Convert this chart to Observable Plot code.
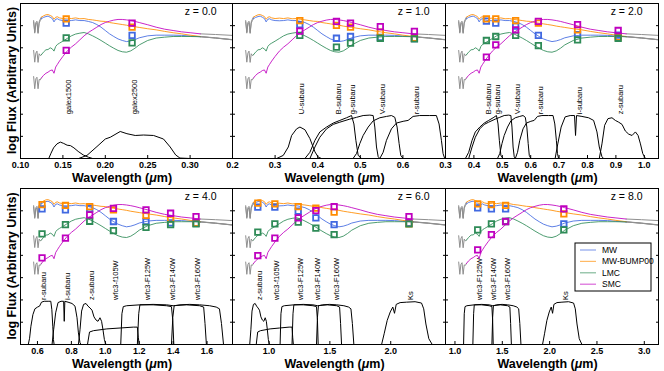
<!DOCTYPE html>
<html><head><meta charset="utf-8">
<script src="https://cdn.jsdelivr.net/npm/d3@7"></script>
<script src="https://cdn.jsdelivr.net/npm/@observablehq/plot@0.6"></script>
<style>
body{margin:0;background:#fff;}
#wrap{position:relative;width:664px;height:371px;overflow:hidden;background:#fff;font-family:"Liberation Sans",Arial,sans-serif;}
</style></head><body><div id="wrap"></div>
<script>
// ---------- data ----------
const SERIES = ["MW", "MW-BUMP00", "LMC", "SMC"];
const COLORS = ["#4169e1", "#ff8c00", "#2e8b57", "#bf00bf"];
const GRAY = "#8f8f8f";

const REST_RANGE = [0.10, 0.35];          // rest-frame wavelength window (um)
const REDSHIFTS = [0, 1, 2, 4, 6, 8];

// rest-frame spectra (log flux, arbitrary units)
const LAM_START = [0.1155, 0.1168, 0.1181, 0.1194, 0.1207, 0.1220, 0.1233, 0.1245];
const LAM = [0.1245, 0.127, 0.130, 0.1325, 0.135, 0.1375, 0.1395, 0.1415, 0.1435, 0.146,
             0.150, 0.155, 0.160, 0.165, 0.170, 0.175, 0.180, 0.185, 0.190, 0.195,
             0.200, 0.205, 0.210, 0.215, 0.220, 0.225, 0.230, 0.235, 0.240, 0.250,
             0.260, 0.270, 0.280, 0.290, 0.300, 0.312];
const LAM_TAIL = [0.312, 0.33, 0.35];

const MW_START = [6.17, 5.66, 6.08, 6.14, 5.65, 6.11, 6.23, 6.31];
const MW_FLUX = [6.31, 6.37, 6.41, 6.43, 6.38, 6.32, 6.17, 6.29, 6.31, 6.26,
                 6.23, 6.22, 6.23, 6.26, 6.23, 6.23, 6.19, 6.14, 6.05, 5.93,
                 5.78, 5.63, 5.51, 5.40, 5.33, 5.28, 5.31, 5.37, 5.45, 5.54,
                 5.57, 5.57, 5.57, 5.56, 5.53, 5.50];
const MW_TAIL = [5.50, 5.44, 5.36];

const BUMP_START = [6.23, 5.71, 6.14, 6.20, 5.69, 6.17, 6.29, 6.38];
const BUMP_FLUX = [6.38, 6.44, 6.49, 6.50, 6.46, 6.41, 6.29, 6.38, 6.40, 6.35,
                   6.32, 6.34, 6.32, 6.35, 6.31, 6.32, 6.28, 6.26, 6.23, 6.20,
                   6.19, 6.14, 6.11, 6.08, 6.05, 6.02, 5.98, 5.95, 5.92, 5.86,
                   5.81, 5.74, 5.68, 5.63, 5.57, 5.51];
const BUMP_TAIL = [5.51, 5.45, 5.37];

const LMC_START = [4.88, 4.35, 4.76, 4.85, 4.34, 4.73, 4.65, 4.68];
const LMC_FLUX = [4.68, 4.80, 4.91, 4.92, 5.00, 4.95, 4.85, 5.06, 5.15, 5.21,
                  5.30, 5.42, 5.54, 5.62, 5.66, 5.69, 5.63, 5.54, 5.44, 5.33,
                  5.21, 5.09, 4.98, 4.88, 4.82, 4.80, 4.86, 4.98, 5.13, 5.33,
                  5.44, 5.48, 5.51, 5.51, 5.51, 5.50];
const LMC_TAIL = [5.50, 5.44, 5.36];

const SMC_START = [3.70, 3.15, 3.60, 3.67, 3.15, 3.57, 3.55, 3.63];
const SMC_FLUX = [3.63, 3.75, 3.85, 3.90, 3.97, 4.00, 3.85, 4.13, 4.25, 4.40,
                  4.61, 4.85, 5.03, 5.18, 5.36, 5.54, 5.69, 5.81, 5.93, 6.05,
                  6.14, 6.20, 6.25, 6.28, 6.28, 6.26, 6.23, 6.19, 6.14, 6.04,
                  5.93, 5.84, 5.78, 5.72, 5.68, 5.63];
const SMC_TAIL = [5.63, 5.60, 5.56];

// filters: observed wavelength (um) and transmission
const FILTER_NAMES = ["galex1500", "galex2500", "U-subaru", "B-subaru", "g-subaru", "V-subaru", "r-subaru",
  "i-subaru", "z-subaru", "wfc3-f105W", "wfc3-F125W", "wfc3-F140W", "wfc3-F160W", "Ks"];
const FILTER_LEFF = [0.1539, 0.2316, 0.358, 0.444, 0.477, 0.547, 0.627, 0.765, 0.908, 1.048, 1.24, 1.385, 1.535, 2.15];

const FUV_LAM = [0.1333, 0.1360, 0.1390, 0.1430, 0.1470, 0.1510, 0.1550, 0.1590, 0.1630, 0.1680, 0.1740, 0.1800, 0.1850];
const FUV_T   = [0, 0.12, 0.24, 0.33, 0.37, 0.34, 0.30, 0.29, 0.24, 0.16, 0.08, 0.03, 0];
const NUV_LAM = [0.1686, 0.1784, 0.1902, 0.2000, 0.2059, 0.2176, 0.2255, 0.2353, 0.2451, 0.2569, 0.2686, 0.2765, 0.2830, 0.2880, 0.3000];
const NUV_T   = [0, 0.07, 0.27, 0.44, 0.48, 0.61, 0.56, 0.52, 0.53, 0.52, 0.44, 0.26, 0.08, 0.01, 0];
const U_LAM = [0.3036, 0.3192, 0.331, 0.3388, 0.3505, 0.3583, 0.37, 0.3817, 0.3935, 0.4013, 0.409];
const U_T   = [0, 0.07, 0.26, 0.52, 0.67, 0.71, 0.65, 0.45, 0.15, 0.03, 0];
const B_LAM = [0.37, 0.3817, 0.3935, 0.405, 0.4208, 0.4364, 0.452, 0.4677, 0.4794, 0.485, 0.4896, 0.495, 0.503];
const B_T   = [0, 0.14, 0.41, 0.60, 0.71, 0.80, 0.86, 0.92, 0.97, 0.78, 0.41, 0.07, 0];
const G_LAM = [0.3817, 0.3935, 0.405, 0.4208, 0.4364, 0.452, 0.4755, 0.4911, 0.5067, 0.5224, 0.5302, 0.5341, 0.538, 0.542, 0.5458];
const G_T   = [0, 0.26, 0.48, 0.67, 0.77, 0.82, 0.89, 0.93, 0.97, 0.98, 0.97, 0.71, 0.26, 0.04, 0];
const V_LAM = [0.483, 0.491, 0.499, 0.5067, 0.5185, 0.5302, 0.5458, 0.5614, 0.5731, 0.581, 0.5864, 0.5911, 0.595, 0.6005];
const V_T   = [0, 0.11, 0.34, 0.52, 0.71, 0.85, 0.92, 0.95, 0.97, 0.93, 0.71, 0.34, 0.07, 0];
const R_LAM = [0.5458, 0.5536, 0.5614, 0.5731, 0.5849, 0.6005, 0.6122, 0.6239, 0.6395, 0.663, 0.6786, 0.6849, 0.6904, 0.6943, 0.6982];
const R_T   = [0, 0.14, 0.41, 0.67, 0.80, 0.84, 0.86, 0.95, 0.97, 0.97, 0.97, 0.78, 0.41, 0.11, 0];
const I_LAM = [0.686, 0.6954, 0.7072, 0.7213, 0.739, 0.7543, 0.7579, 0.7614, 0.7803, 0.8038, 0.8215, 0.8333, 0.8415, 0.8509, 0.8568];
const I_T   = [0, 0.33, 0.71, 0.94, 0.97, 0.97, 0.52, 0.97, 0.95, 0.92, 0.86, 0.60, 0.26, 0.04, 0];
const Z_LAM = [0.8415, 0.8509, 0.8603, 0.8721, 0.8862, 0.898, 0.9098, 0.9216, 0.9333, 0.9451, 0.9569, 0.9687, 0.9781, 0.9864, 0.9946, 1.004];
const Z_T   = [0, 0.33, 0.75, 0.90, 0.92, 0.86, 0.82, 0.77, 0.62, 0.55, 0.52, 0.60, 0.52, 0.33, 0.11, 0];
const F105_LAM = [0.895, 0.907, 0.930, 1.009, 1.087, 1.165, 1.189, 1.195, 1.200];
const F105_T   = [0, 0.28, 0.31, 0.35, 0.37, 0.39, 0.39, 0.15, 0];
const F125_LAM = [1.091, 1.098, 1.106, 1.126, 1.204, 1.282, 1.361, 1.390, 1.398, 1.404];
const F125_T   = [0, 0.69, 0.85, 0.87, 0.89, 0.89, 0.87, 0.85, 0.54, 0];
const F140_LAM = [1.189, 1.197, 1.204, 1.282, 1.361, 1.400, 1.478, 1.556, 1.580, 1.588, 1.596];
const F140_T   = [0, 0.69, 0.89, 0.90, 0.89, 0.87, 0.89, 0.87, 0.84, 0.47, 0];
const F160_LAM = [1.390, 1.398, 1.406, 1.440, 1.498, 1.556, 1.615, 1.654, 1.673, 1.685, 1.697];
const F160_T   = [0, 0.61, 0.87, 0.89, 0.90, 0.89, 0.87, 0.84, 0.80, 0.47, 0];
const KS_LAM = [1.925, 1.946, 1.971, 1.996, 2.017, 2.031, 2.045, 2.077, 2.130, 2.200, 2.253, 2.271, 2.289, 2.313, 2.341];
const KS_T   = [0, 0.24, 0.54, 0.73, 0.84, 0.70, 0.90, 0.94, 0.95, 0.96, 0.93, 0.80, 0.46, 0.13, 0];

const FILTER_CURVES = [[FUV_LAM, FUV_T], [NUV_LAM, NUV_T], [U_LAM, U_T], [B_LAM, B_T], [G_LAM, G_T],
  [V_LAM, V_T], [R_LAM, R_T], [I_LAM, I_T], [Z_LAM, Z_T], [F105_LAM, F105_T], [F125_LAM, F125_T],
  [F140_LAM, F140_T], [F160_LAM, F160_T], [KS_LAM, KS_T]];

const PANEL_FILTERS = [
  ["galex1500", "galex2500"],
  ["U-subaru", "B-subaru", "g-subaru", "V-subaru", "r-subaru"],
  ["B-subaru", "g-subaru", "V-subaru", "r-subaru", "i-subaru", "z-subaru"],
  ["r-subaru", "i-subaru", "z-subaru", "wfc3-f105W", "wfc3-F125W", "wfc3-F140W", "wfc3-F160W"],
  ["z-subaru", "wfc3-f105W", "wfc3-F125W", "wfc3-F140W", "wfc3-F160W", "Ks"],
  ["wfc3-F125W", "wfc3-F140W", "wfc3-F160W", "Ks"]
];

// band fluxes (squares), per panel, in the order of PANEL_FILTERS
const MW_MARK   = [[6.11, 5.56], [6.04, 5.43, 5.51, 5.47, 5.42], [6.20, 6.11, 5.98, 5.56, 5.59, 5.57],
                   [6.09, 6.04, 6.10, 5.52, 5.52, 5.46, 5.44], [6.16, 6.16, 5.98, 5.68, 5.38, 5.44], [6.13, 6.09, 6.09, 5.41]];
const BUMP_MARK = [[6.31, 5.93], [6.23, 6.01, 5.93, 5.71, 5.43], [6.31, 6.31, 6.23, 6.11, 5.81, 5.48],
                   [6.28, 6.24, 6.19, 6.04, 5.79, 5.64, 5.45], [6.34, 6.31, 6.19, 6.12, 5.94, 5.41], [6.31, 6.28, 6.24, 5.86]];
const LMC_MARK  = [[5.45, 5.22], [5.56, 5.03, 5.21, 5.43, 5.40], [5.33, 5.51, 5.56, 5.10, 5.36, 5.43],
                   [4.96, 5.38, 5.53, 5.11, 5.26, 5.38, 5.41], [5.04, 5.41, 5.49, 5.22, 4.93, 5.41], [5.14, 5.41, 5.52, 5.14]];
const SMC_MARK  = [[4.88, 6.11], [5.75, 6.19, 6.11, 5.96, 5.74], [4.58, 5.13, 5.81, 6.19, 6.05, 5.78],
                   [3.89, 4.77, 5.82, 6.11, 6.04, 5.89, 5.74], [3.99, 4.77, 5.68, 6.01, 6.19, 5.74], [4.25, 4.93, 5.52, 6.09]];

const XTICKS = [
  [0.10, 0.15, 0.20, 0.25, 0.30],
  [0.2, 0.3, 0.4, 0.5, 0.6],
  [0.3, 0.4, 0.5, 0.6, 0.7, 0.8, 0.9, 1.0],
  [0.6, 0.8, 1.0, 1.2, 1.4, 1.6],
  [1.0, 1.5, 2.0],
  [1.0, 1.5, 2.0, 2.5, 3.0]
];
const YTICKS = [1, 2, 3, 4, 5, 6];
const Y_DOMAIN = [0, 7];

// ---------- layout ----------
const COLS = [[20, 232], [232, 445], [445, 658]];
const ROWS = [[3, 158], [188, 344]];
const FILTER_SCALE = 2;      // transmission 1 -> 2 log-flux units
const FONT = "'Liberation Sans', Arial, Helvetica, sans-serif";

const wrap = document.getElementById("wrap");
const SPEC = [
  [MW_START, MW_FLUX, MW_TAIL, MW_MARK],
  [BUMP_START, BUMP_FLUX, BUMP_TAIL, BUMP_MARK],
  [LMC_START, LMC_FLUX, LMC_TAIL, LMC_MARK],
  [SMC_START, SMC_FLUX, SMC_TAIL, SMC_MARK]
];
const pairs = (lams, vals, k) => lams.map((l, j) => [l * k, vals[j]]);

REDSHIFTS.forEach((z, p) => {
  const k = 1 + z;
  const [cx0, cx1] = COLS[p % 3];
  const [ry0, ry1] = ROWS[Math.floor(p / 3)];
  const w = cx1 - cx0, h = ry1 - ry0;
  const fnames = PANEL_FILTERS[p];
  const fidx = fnames.map(n => FILTER_NAMES.indexOf(n));
  const marks = [];
  // filter transmission curves
  fidx.forEach(fi => {
    const [fl, ft] = FILTER_CURVES[fi];
    marks.push(Plot.line(fl.map((l, j) => [l, ft[j] * FILTER_SCALE]), {x: d => d[0], y: d => d[1], stroke: "#000", strokeWidth: 1, clip: true}));
  });
  // filter labels
  marks.push(Plot.text(fidx, {x: fi => FILTER_LEFF[fi], y: FILTER_SCALE, text: fi => FILTER_NAMES[fi],
    rotate: -90, textAnchor: "start", fontSize: 7.5, fill: "#000", dx: 2}));
  // gray parts of spectra
  SPEC.forEach(([st, fl, tl]) => {
    marks.push(Plot.line(pairs(LAM_START, st, k), {x: d => d[0], y: d => d[1], stroke: GRAY, strokeWidth: 1, clip: true}));
    marks.push(Plot.line(pairs(LAM_TAIL, tl, k), {x: d => d[0], y: d => d[1], stroke: GRAY, strokeWidth: 1, clip: true}));
  });
  // coloured parts of spectra
  SPEC.forEach(([st, fl], s) => {
    marks.push(Plot.line(pairs(LAM, fl, k), {x: d => d[0], y: d => d[1], stroke: COLORS[s], strokeWidth: 1, strokeOpacity: 0.85, clip: true}));
  });
  // band flux squares
  SPEC.forEach(([st, fl, tl, mk], s) => {
    marks.push(Plot.dot(fidx.map((fi, j) => [FILTER_LEFF[fi], mk[p][j]]), {x: d => d[0], y: d => d[1],
      symbol: "square", r: 3.1, stroke: COLORS[s], strokeWidth: 1.8, fill: "none"}));
  });
  // redshift label
  marks.push(Plot.text([`z = ${z.toFixed(1)}`], {frameAnchor: "top-right", dx: -16, dy: 4, fontSize: 10.5, fill: "#000"}));
  // axes
  const fmt = p === 0 ? d3.format(".2f") : d3.format(".1f");
  marks.push(Plot.axisX({ticks: XTICKS[p], tickSize: -3, tickFormat: () => "", label: null}));
  marks.push(Plot.axisX({ticks: XTICKS[p], tickSize: 0, tickPadding: 3, tickFormat: fmt, fontSize: 9, fontWeight: "bold", label: null}));
  marks.push(Plot.axisY({ticks: YTICKS, tickSize: -3, tickFormat: () => "", label: null}));
  marks.push(Plot.axisY({anchor: "right", ticks: YTICKS, tickSize: -3, tickFormat: () => "", label: null}));
  marks.push(Plot.frame({stroke: "#000", strokeWidth: 1}));

  const svg = Plot.plot({
    width: w, height: h,
    marginTop: 0, marginRight: 0, marginBottom: 0, marginLeft: 0,
    x: {domain: [REST_RANGE[0] * k, REST_RANGE[1] * k]},
    y: {domain: Y_DOMAIN},
    marks
  });
  svg.style.position = "absolute";
  svg.style.left = cx0 + "px";
  svg.style.top = ry0 + "px";
  svg.style.overflow = "visible";
  svg.style.background = "transparent";
  svg.style.maxWidth = "none";
  svg.style.fontFamily = FONT;
  wrap.appendChild(svg);
});

// ---------- titles and legend ----------
const NS = "http://www.w3.org/2000/svg";
const ov = document.createElementNS(NS, "svg");
ov.setAttribute("width", 664); ov.setAttribute("height", 371);
ov.style.position = "absolute"; ov.style.left = "0"; ov.style.top = "0"; ov.style.fontFamily = FONT;
let html = "";
ROWS.forEach(([a, b], r) => {
  const cy = (a + b) / 2;
  html += `<text transform="translate(15.5,${cy}) rotate(-90)" text-anchor="middle" font-size="12.5" font-weight="bold">log Flux (Arbitrary Units)</text>`;
  COLS.forEach(([c0, c1]) => {
    html += `<text x="${(c0 + c1) / 2 - 4}" y="${b + 23.5}" text-anchor="middle" font-size="12.5" font-weight="bold">Wavelength (<tspan font-style="italic">μ</tspan>m)</text>`;
  });
});
// legend box in last panel
const LX = 575, LY = 243;
html += `<rect x="${LX}" y="${LY}" width="76" height="48" fill="#fff" stroke="#000" stroke-width="1"/>`;
SERIES.forEach((s, i) => {
  const yy = LY + 7 + i * 11.4;
  html += `<line x1="${LX + 5}" x2="${LX + 21}" y1="${yy}" y2="${yy}" stroke="${COLORS[i]}" stroke-opacity="0.6" stroke-width="1.2"/>`;
  html += `<text x="${LX + 27}" y="${yy + 3}" font-size="8.5">${s}</text>`;
});
ov.innerHTML = html;
wrap.appendChild(ov);
</script></body></html>
